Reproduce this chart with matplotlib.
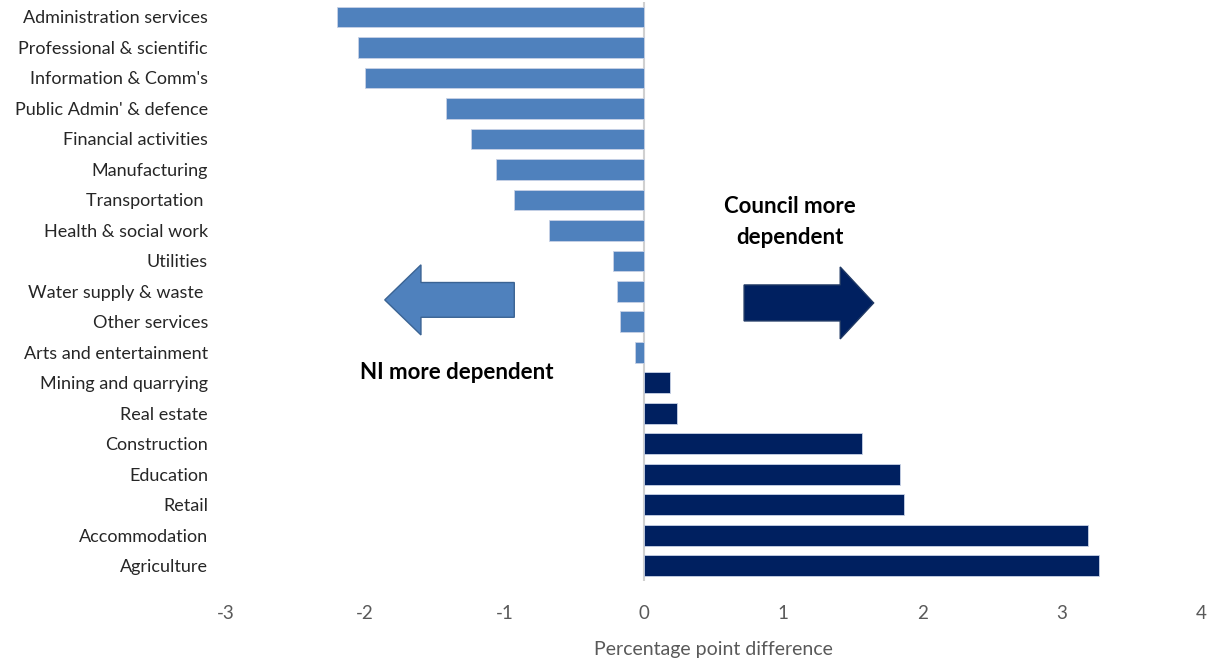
import numpy as np
import matplotlib.pyplot as plt
from matplotlib.patches import FancyArrow

# sectors, top to bottom
sectors = [
    "Administration services",
    "Professional & scientific",
    "Information & Comm's",
    "Public Admin' & defence",
    "Financial activities",
    "Manufacturing",
    "Transportation ",
    "Health & social work",
    "Utilities",
    "Water supply & waste ",
    "Other services",
    "Arts and entertainment",
    "Mining and quarrying",
    "Real estate",
    "Construction",
    "Education",
    "Retail",
    "Accommodation",
    "Agriculture",
]
# percentage point difference (council minus NI)
diff = [-2.20, -2.05, -2.00, -1.42, -1.24, -1.06, -0.93, -0.68, -0.22,
        -0.19, -0.17, -0.06, 0.19, 0.24, 1.57, 1.84, 1.87, 3.19, 3.27]
xticks = [-3, -2, -1, 0, 1, 2, 3, 4]

LIGHT = "#4F81BD"
DARK = "#002060"

plt.rcParams['font.family'] = ['Lato', 'DejaVu Sans']

fig = plt.figure(figsize=(12.07, 6.6), dpi=100)
ax = fig.add_axes([0.1872, 0.1197, 0.8078, 0.8777])

y = np.arange(len(sectors))
colors = [LIGHT if v < 0 else DARK for v in diff]
ax.barh(y, diff, height=0.68, color=colors, edgecolor="#C8D2E6", linewidth=0.6)

ax.set_ylim(len(sectors) - 0.5, -0.5)
ax.set_xlim(-3, 4)
ax.set_yticks(y)
ax.set_yticklabels(sectors, fontsize=13, color="#262626")
ax.set_xticks(xticks)
ax.set_xticklabels([str(t) for t in xticks], fontsize=13.5, color="#595959")
ax.tick_params(length=0, axis="y", pad=13)
ax.tick_params(length=0, axis="x", pad=17)
ax.set_xlabel("Percentage point difference", fontsize=14, color="#595959", labelpad=14)
for s in ax.spines.values():
    s.set_visible(False)
ax.axvline(0, color="#D0D0D0", linewidth=1.5, zorder=0)

# direction arrows
ax.add_patch(FancyArrow(-0.93, 9.28, -0.93, 0, width=1.14, head_width=2.3,
                        head_length=0.26, length_includes_head=True,
                        facecolor=LIGHT, edgecolor="#3A6393", linewidth=1))
ax.add_patch(FancyArrow(0.72, 9.38, 0.93, 0, width=1.18, head_width=2.36,
                        head_length=0.24, length_includes_head=True,
                        facecolor=DARK, edgecolor="#1F3864", linewidth=1))

ax.text(1.05, 6.73, "Council more\ndependent", ha="center", va="center",
        fontsize=16, fontweight="bold", color="black", linespacing=1.55)
ax.text(-1.34, 11.67, "NI more dependent", ha="center", va="center",
        fontsize=16, fontweight="bold", color="black")

fig.savefig("out.png", dpi=100)
